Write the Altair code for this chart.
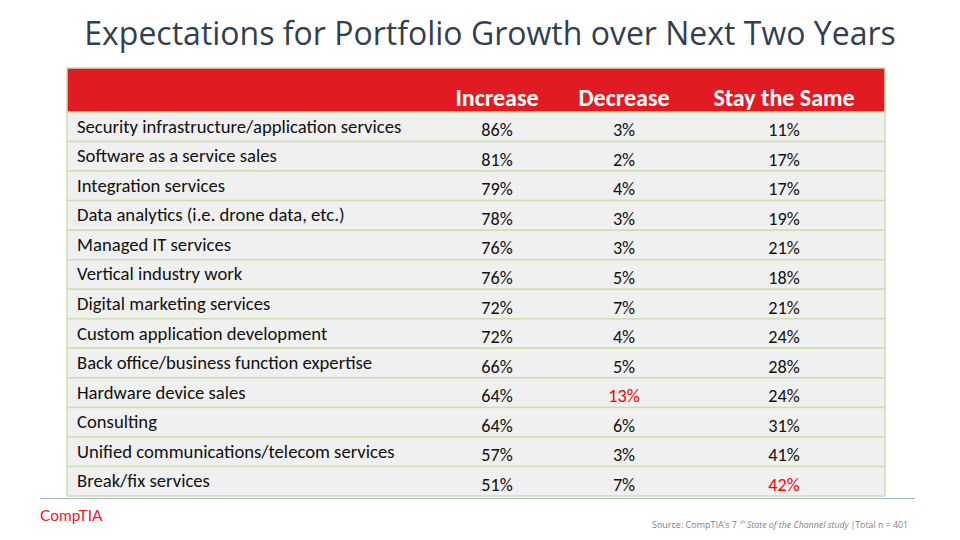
import altair as alt
import pandas as pd

# ---------------- data ----------------
categories = [
    "Security infrastructure/application services",
    "Software as a service sales",
    "Integration services",
    "Data analytics (i.e. drone data, etc.)",
    "Managed IT services",
    "Vertical industry work",
    "Digital marketing services",
    "Custom application development",
    "Back office/business function expertise",
    "Hardware device sales",
    "Consulting",
    "Unified communications/telecom services",
    "Break/fix services",
]
increase = [86, 81, 79, 78, 76, 76, 72, 72, 66, 64, 64, 57, 51]
decrease = [3, 2, 4, 3, 3, 5, 7, 4, 5, 13, 6, 3, 7]
stay_same = [11, 17, 17, 19, 21, 18, 21, 24, 28, 24, 31, 41, 42]
columns = ["Increase", "Decrease", "Stay the Same"]
highlights = [("Hardware device sales", "Decrease"), ("Break/fix services", "Stay the Same")]

title_text = "Expectations for Portfolio Growth over Next Two Years"

# ---------------- layout ----------------
W, H = 818, 384            # table body (rows) area
HEADER_H = 44
col_centers = [430, 557, 717]

rows = []
for i, c in enumerate(categories):
    for j, (col, vals) in enumerate(zip(columns, [increase, decrease, stay_same])):
        rows.append({
            "category": c, "column": col, "col_idx": j,
            "value": vals[i], "label": f"{vals[i]}%",
            "hl": (c, col) in highlights,
        })
df = pd.DataFrame(rows)
cat_df = pd.DataFrame({"category": categories})
col_df = pd.DataFrame({"column": columns, "col_idx": list(range(len(columns)))})
one = alt.Data(values=[{"k": 1}])

yscale = alt.Scale(domain=categories, paddingInner=0, paddingOuter=0)
xscale = alt.Scale(domain=list(range(len(columns))), range=col_centers)

BODY_FONT = "Carlito, Lato"
GREEN = "#cddfae"
RED = "#e01b22"
TXT = "#111111"

row_bg = alt.Chart(cat_df).mark_rect(fill="#f0f0f0", stroke=GREEN, strokeWidth=1.5).encode(
    y=alt.Y("category:N", scale=yscale, axis=None),
    x=alt.value(0), x2=alt.value(W),
)

row_labels = alt.Chart(cat_df).mark_text(
    align="left", baseline="middle", dy=0, font=BODY_FONT, fontSize=18.67, color=TXT
).encode(
    y=alt.Y("category:N", scale=yscale, axis=None),
    x=alt.value(10),
    text="category:N",
)

values = alt.Chart(df).mark_text(
    align="center", baseline="middle", dy=4.5, font=BODY_FONT, fontSize=18.2
).encode(
    y=alt.Y("category:N", scale=yscale, axis=None),
    x=alt.X("col_idx:Q", scale=xscale, axis=None),
    text="label:N",
    color=alt.condition("datum.hl", alt.value("#ff0000"), alt.value(TXT)),
)

header_bg = alt.Chart(one).mark_rect(fill=RED, stroke=GREEN, strokeWidth=1.5).encode(
    x=alt.value(0), x2=alt.value(W), y=alt.value(-HEADER_H), y2=alt.value(0),
)

header_text = alt.Chart(col_df).mark_text(
    align="center", baseline="middle", font=BODY_FONT, fontWeight="bold", fontSize=24, color="white"
).encode(
    x=alt.X("col_idx:Q", scale=xscale, axis=None),
    y=alt.value(-13),
    text="column:N",
)

title = alt.Chart(one).mark_text(
    text=title_text, align="center", baseline="middle", font="Open Sans",
    fontSize=32, color="#333f4f"
).encode(x=alt.value(423), y=alt.value(-77.5))

bottom_rule = alt.Chart(one).mark_rule(color="#9fb2c4", strokeWidth=1).encode(
    x=alt.value(-27), x2=alt.value(848), y=alt.value(386.5),
)

logo = alt.Chart(one).mark_text(
    text="CompTIA", align="left", baseline="middle", font="Lato", fontSize=15.5,
    color="#e8202a"
).encode(x=alt.value(-27), y=alt.value(404))

SRC_COL = "#7f7f7f"
SRC_Y = 413
src1 = alt.Chart(one).mark_text(
    text="Source: CompTIA\u2019s 7", align="left", baseline="middle", font="Open Sans",
    fontSize=9, color=SRC_COL
).encode(x=alt.value(652 - 67), y=alt.value(SRC_Y))
src2 = alt.Chart(one).mark_text(
    text="th", align="left", baseline="middle", font="Open Sans",
    fontSize=5.5, color=SRC_COL
).encode(x=alt.value(740 - 67), y=alt.value(SRC_Y - 3))
src3 = alt.Chart(one).mark_text(
    text="State of the Channel study", align="left", baseline="middle", font="Open Sans",
    fontSize=8.8, fontStyle="italic", color=SRC_COL
).encode(x=alt.value(747 - 67), y=alt.value(SRC_Y))
src4 = alt.Chart(one).mark_text(
    text="|Total n = 401", align="right", baseline="middle", font="Open Sans",
    fontSize=8.8, color=SRC_COL
).encode(x=alt.value(908 - 67), y=alt.value(SRC_Y))

chart = alt.layer(
    row_bg, header_bg, header_text, row_labels, values,
    title, bottom_rule, logo, src1, src2, src3, src4,
).properties(
    width=W, height=H,
    padding={"left": 59, "top": 104, "right": 67, "bottom": 36},
    autosize="none",
    background="white",
).configure_view(stroke=None)

chart.save("out.html", embed_options={"renderer": "svg", "actions": False})
